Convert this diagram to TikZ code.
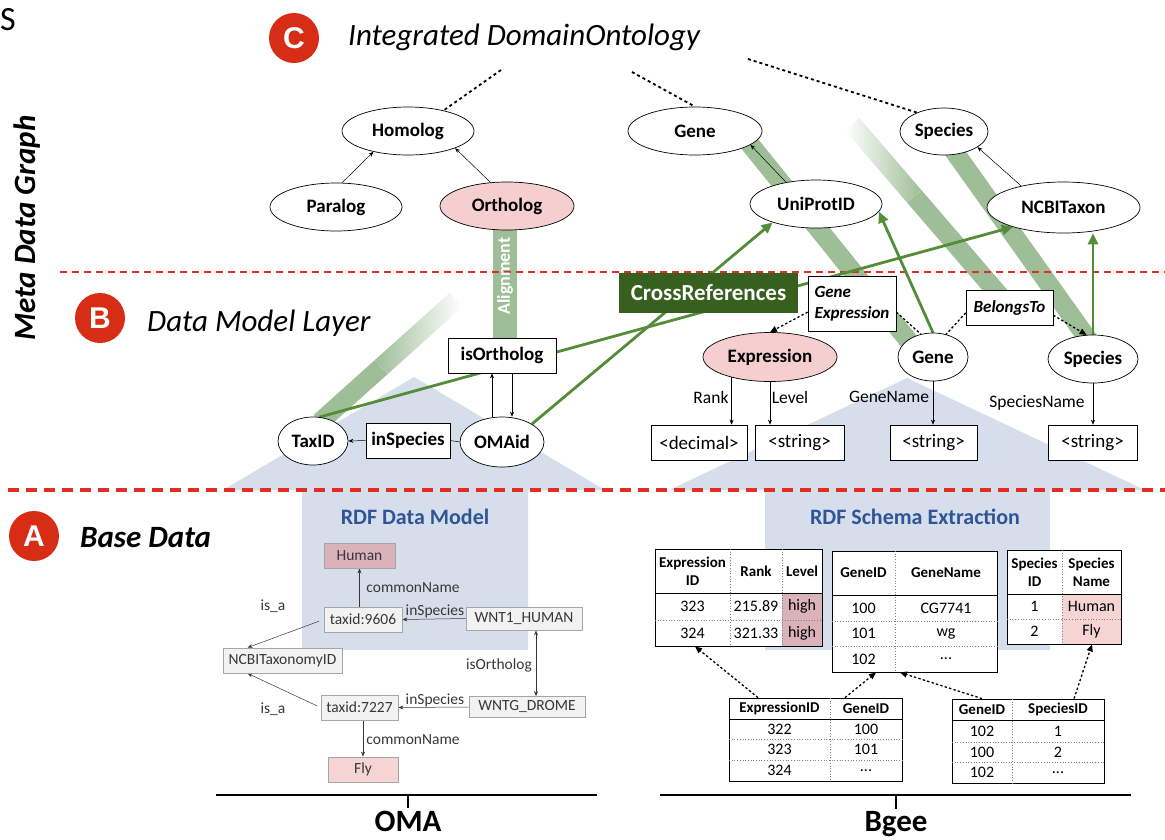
\documentclass[tikz,border=0pt]{standalone}
\usepackage{fontspec}
\setmainfont{Carlito}
\newfontfamily\arialfont{Liberation Sans}
\usetikzlibrary{shapes.geometric,arrows.meta,calc}
\newcommand{\fsz}[1]{\fontsize{#1}{#1}\selectfont\baselineskip=1.2\baselineskip}
\pgfdeclarelayer{bg}
\pgfdeclarelayer{mid}
\pgfsetlayers{bg,mid,main}
\definecolor{redline}{RGB}{225,45,35}
\definecolor{badge}{RGB}{215,45,20}
\definecolor{arrowgreen}{RGB}{85,140,55}
\definecolor{crossgreen}{RGB}{55,95,30}
\definecolor{bandgreen}{RGB}{158,190,152}
\definecolor{pinkE}{RGB}{245,207,207}
\definecolor{pinkD}{RGB}{218,178,186}
\definecolor{pinkL}{RGB}{247,212,212}
\definecolor{houseblue}{RGB}{214,222,236}
\definecolor{rdfblue}{RGB}{47,85,151}
\definecolor{boxgray}{RGB}{242,242,242}
\definecolor{boxline}{RGB}{165,165,165}
\definecolor{labelgray}{RGB}{55,55,55}
\tikzset{
  ellnode/.style={ellipse, draw, line width=0.7pt, fill=white, inner sep=0pt, font=\bfseries\fsz{19}},
  relbox/.style={rectangle, draw, line width=0.7pt, fill=white, inner sep=0pt, font=\bfseries\fsz{19}},
  litbox/.style={rectangle, draw, line width=0.7pt, fill=white, inner sep=0pt, font=\fsz{19}},
  italbox/.style={rectangle, draw, line width=0.7pt, fill=white, inner sep=0pt, font=\bfseries\itshape\fsz{17}, align=left},
  crossbox/.style={rectangle, fill=crossgreen, text=white, font=\bfseries\fsz{23}, inner sep=0pt},
  thinarrow/.style={-{Stealth[length=5pt,width=4pt]}, line width=0.5pt},
  thinline/.style={line width=0.5pt},
  greenarrow/.style={-{Triangle[length=11pt,width=10pt]}, line width=2.8pt, draw=arrowgreen, color=arrowgreen},
  dotarrow/.style={-{Triangle[length=7pt,width=6pt]}, line width=1.3pt, dash pattern=on 2.4pt off 2.2pt},
  dotline/.style={line width=1.3pt, dash pattern=on 2.4pt off 2.2pt},
  topdots/.style={line width=1.8pt, dash pattern=on 3pt off 3pt},
  reddash/.style={draw=redline, line width=2pt, dash pattern=on 7pt off 5pt},
  reddashbig/.style={draw=redline, line width=3.6pt, dash pattern=on 11pt off 7pt},
  badgecirc/.style={circle, fill=badge, text=white, font=\arialfont\bfseries\fsz{30}, minimum size=50pt, inner sep=0pt},
  titletext/.style={font=\itshape\fsz{31}, inner sep=0pt, anchor=base west},
  basebox/.style={rectangle, draw=boxline, fill=boxgray, line width=0.8pt, inner sep=0pt, font=\fsz{15.5}, text=labelgray},
  baselabel/.style={font=\fsz{15.5}, text=labelgray, inner sep=0pt},
  attrlabel/.style={font=\fsz{17.5}, inner sep=0pt},
  cellh/.style={font=\bfseries\fsz{15}, align=center, inner sep=0pt},
  cellv/.style={font=\fsz{16}, inner sep=0pt},
  tabframe/.style={rectangle, draw, line width=0.8pt, fill=white, inner sep=0pt},
  tabdot/.style={line width=0.7pt, dotted, draw=gray},
  bandnode/.style={inner sep=0pt, minimum height=19pt, draw=none},
}
% name, from, to, color at from, color at to
\newcommand{\bandseg}[5]{%
  \path let \p1=($(#3)-(#2)$), \n1={atan2(\y1,\x1)}, \n2={veclen(\x1,\y1)} in
    node[bandnode, rotate=\n1, minimum width=\n2, left color=#4, right color=#5] (#1) at ($(#2)!0.5!(#3)$) {};%
}
\begin{document}
\begin{tikzpicture}[x=1pt,y=-1pt]
\useasboundingbox (0,0) rectangle (1165,839);

%================ titles and badges
\node[font=\fsz{34}, inner sep=0pt] (sTop) at (8,20) {S};
\node[badgecirc] (badgeC) at (294,38) {C};
\node[titletext] (titleC) at (348,45) {Integrated DomainOntology};
\node[badgecirc] (badgeB) at (100,318) {B};
\node[titletext] (titleB) at (147,331) {Data Model Layer};
\node[badgecirc] (badgeA) at (34,536) {A};
\node[titletext, font=\bfseries\itshape\fsz{31}] (titleA) at (80,547) {Base Data};
\node[font=\bfseries\itshape\fsz{31}, rotate=90, inner sep=0pt] (metaLabel) at (27,228) {Meta Data Graph};

%================ C layer nodes
\node[ellnode, minimum width=132pt, minimum height=48pt] (homolog) at (408,131) {Homolog};
\node[ellnode, minimum width=132pt, minimum height=48pt] (paralog) at (336,207) {Paralog};
\node[ellnode, fill=pinkE, minimum width=134pt, minimum height=48pt] (ortholog) at (507,206) {Ortholog};
\node[ellnode, minimum width=134pt, minimum height=48pt] (geneT) at (695,131) {Gene};
\node[ellnode, minimum width=88pt, minimum height=47pt] (speciesT) at (944,131.5) {Species};
\node[ellnode, minimum width=132pt, minimum height=48pt] (uniprot) at (816,204) {UniProtID};
\node[ellnode, minimum width=153pt, minimum height=51pt] (ncbi) at (1063.5,207.5) {NCBITaxon};

\coordinate (d1) at (501,70);
\coordinate (d2) at (632,72);
\coordinate (d3) at (748,59);
\draw[topdots] (d1) -- (homolog.30);
\draw[topdots] (d2) -- (geneT.north);
\draw[topdots] (d3) -- (speciesT.145);

\draw[thinarrow] (paralog.76) -- (homolog.211);
\draw[thinarrow] (ortholog.125) -- (homolog.340);
\draw[thinarrow] (uniprot.144) -- (geneT.346);
\draw[thinarrow] (ncbi.153) -- (speciesT.335);

%================ B layer nodes
\node[ellnode, minimum width=70pt, minimum height=48pt] (taxid) at (313,441) {TaxID};
\node[relbox, minimum width=84pt, minimum height=35pt] (inspecies) at (408,440.5) {inSpecies};
\node[ellnode, minimum width=84pt, minimum height=50pt] (omaid) at (502,442) {OMAid};
\node[relbox, minimum width=108pt, minimum height=35pt] (isortho) at (502,355.5) {isOrtholog};
\node[crossbox, minimum width=179pt, minimum height=40pt] (crossref) at (708.5,293) {CrossReferences};
\node[italbox, minimum width=88pt, minimum height=55pt] (geneexp) at (852,303.5) {Gene\\[1pt]Expression};
\node[italbox, minimum width=87pt, minimum height=35pt] (belongs) at (1009.5,307.5) {BelongsTo};
\node[ellnode, fill=pinkE, minimum width=134pt, minimum height=49pt] (expression) at (770,357) {Expression};
\node[ellnode, minimum width=70pt, minimum height=48pt] (geneM) at (933,357) {Gene};
\node[ellnode, minimum width=90pt, minimum height=48pt] (speciesM) at (1093,359) {Species};
\node[litbox, minimum width=96pt, minimum height=35pt] (decimal) at (699,442.5) {<decimal>};
\node[litbox, minimum width=89pt, minimum height=35pt] (strA) at (799.5,442.5) {<string>};
\node[litbox, minimum width=87pt, minimum height=35pt] (strB) at (933.5,442.5) {<string>};
\node[litbox, minimum width=89pt, minimum height=35pt] (strC) at (1092.5,442.5) {<string>};
\node[attrlabel] (lblRank) at (711,397) {Rank};
\node[attrlabel] (lblLevel) at (790,397) {Level};
\node[attrlabel] (lblGeneName) at (889,397) {GeneName};
\node[attrlabel] (lblSpeciesName) at (1037,403) {SpeciesName};
\node[font=\bfseries\fsz{18}, text=white, rotate=90, inner sep=0pt] (alignText) at (505,276) {Alignment};

\draw[dotarrow] (geneexp.191) -- (expression.north);
\draw[dotline] (geneexp.349) -- (geneM.118);
\draw[dotline] (belongs.187) -- (geneM.60);
\draw[dotarrow] (belongs.350) -- (speciesM.105);

%================ A layer (OMA)
\node[font=\bfseries\fsz{22}, text=rdfblue, inner sep=0pt] (rdfDM) at (415,517) {RDF Data Model};
\node[basebox, fill=pinkD, minimum width=71pt, minimum height=25pt] (human) at (359.5,555.5) {Human};
\node[basebox, minimum width=78pt, minimum height=25pt] (tax9606) at (363,619.5) {taxid:9606};
\node[basebox, minimum width=116pt, minimum height=23pt] (wnt1) at (524,618.5) {WNT1\_HUMAN};
\node[basebox, minimum width=119pt, minimum height=25pt] (ncbitax) at (282.5,660.5) {NCBITaxonomyID};
\node[basebox, minimum width=77pt, minimum height=25pt] (tax7227) at (359.5,707.5) {taxid:7227};
\node[basebox, minimum width=116pt, minimum height=21pt] (wntg) at (527,707) {WNTG\_DROME};
\node[basebox, fill=pinkL, minimum width=70pt, minimum height=25pt] (fly) at (363,769.5) {Fly};
\node[baselabel] (lblCommon1) at (413,588) {commonName};
\node[baselabel] (lblIsa1) at (273,606) {is\_a};
\node[baselabel] (lblInSp1) at (435,611) {inSpecies};
\node[baselabel] (lblIsOrth) at (499,665) {isOrtholog};
\node[baselabel] (lblIsa2) at (273,709) {is\_a};
\node[baselabel] (lblInSp2) at (435,700) {inSpecies};
\node[baselabel] (lblCommon2) at (413,740) {commonName};

\coordinate (omaL) at (216,795);
\coordinate (omaR) at (597,795);
\coordinate (omaT) at (408,795);
\coordinate (omaTb) at (408,808);
\draw[line width=1.3pt] (omaL) -- (omaR);
\draw[line width=1.3pt] (omaT) -- (omaTb);
\node[font=\bfseries\fsz{31}, anchor=base, inner sep=0pt] (omaName) at (408,831) {OMA};

%================ A layer (Bgee)
\node[font=\bfseries\fsz{22}, text=rdfblue, inner sep=0pt] (rdfSE) at (915,517) {RDF Schema Extraction};

% Expression table
\node[tabframe, minimum width=167pt, minimum height=97pt] (exptab) at (738.5,597.5) {};
\fill[pinkD] (782.4,593.4) rectangle (821.6,645.6);
\draw[tabdot] (730,549) -- (730,646);
\draw[tabdot] (782,549) -- (782,646);
\draw[tabdot] (655,620) -- (822,620);
\draw[line width=0.8pt] (655,593) -- (822,593);
\node[cellh] (expH1) at (692.5,571) {Expression\\ID};
\node[cellh] (expH2) at (756,571) {Rank};
\node[cellh] (expH3) at (802,571) {Level};
\node[cellv] (expA1) at (692.5,606.5) {323};
\node[cellv] (expA2) at (756,606.5) {215.89};
\node[cellv] (expA3) at (802,606.5) {high};
\node[cellv] (expB1) at (692.5,633) {324};
\node[cellv] (expB2) at (756,633) {321.33};
\node[cellv] (expB3) at (802,633) {high};

% Gene table
\node[tabframe, minimum width=165pt, minimum height=121pt] (genetab) at (914.5,611.5) {};
\draw[tabdot] (895,551) -- (895,672);
\draw[tabdot] (832,621) -- (997,621);
\draw[tabdot] (832,646) -- (997,646);
\draw[line width=0.8pt] (832,595) -- (997,595);
\node[cellh] (geneH1) at (863.5,573) {GeneID};
\node[cellh] (geneH2) at (946,573) {GeneName};
\node[cellv] (geneA1) at (863.5,608) {100};
\node[cellv] (geneA2) at (946,608) {CG7741};
\node[cellv] (geneB1) at (863.5,633.5) {101};
\node[cellv] (geneB2) at (946,633.5) {wg};
\node[cellv] (geneC1) at (863.5,659) {102};
\node[cellv] (geneC2) at (946,659) {...};

% Species table
\node[tabframe, minimum width=114pt, minimum height=94pt] (sptab) at (1064,597) {};
\fill[pinkL] (1062.4,594.4) rectangle (1120.6,643.6);
\draw[tabdot] (1062,550) -- (1062,644);
\draw[tabdot] (1007,619) -- (1121,619);
\draw[line width=0.8pt] (1007,594) -- (1121,594);
\node[cellh] (spH1) at (1034.5,572) {Species\\ID};
\node[cellh] (spH2) at (1091.5,572) {Species\\Name};
\node[cellv] (spA1) at (1034.5,606.5) {1};
\node[cellv] (spA2) at (1091.5,606.5) {Human};
\node[cellv] (spB1) at (1034.5,631.5) {2};
\node[cellv] (spB2) at (1091.5,631.5) {Fly};

% ExpressionID-GeneID table
\node[tabframe, minimum width=173pt, minimum height=83pt] (egtab) at (815.5,739.5) {};
\draw[tabdot] (830,698) -- (830,781);
\draw[tabdot] (729,739) -- (902,739);
\draw[tabdot] (729,760) -- (902,760);
\draw[line width=0.8pt] (729,719) -- (902,719);
\node[cellh] (egH1) at (779.5,708.5) {ExpressionID};
\node[cellh] (egH2) at (866,708.5) {GeneID};
\node[cellv] (egA1) at (779.5,729) {322};
\node[cellv] (egA2) at (866,729) {100};
\node[cellv] (egB1) at (779.5,749.5) {323};
\node[cellv] (egB2) at (866,749.5) {101};
\node[cellv] (egC1) at (779.5,770.5) {324};
\node[cellv] (egC2) at (866,770.5) {...};

% GeneID-SpeciesID table
\node[tabframe, minimum width=152pt, minimum height=84pt] (gstab) at (1028,741) {};
\draw[tabdot] (1012,699) -- (1012,783);
\draw[tabdot] (952,742) -- (1104,742);
\draw[tabdot] (952,762) -- (1104,762);
\draw[line width=0.8pt] (952,720) -- (1104,720);
\node[cellh] (gsH1) at (982,709.5) {GeneID};
\node[cellh] (gsH2) at (1058,709.5) {SpeciesID};
\node[cellv] (gsA1) at (982,731) {102};
\node[cellv] (gsA2) at (1058,731) {1};
\node[cellv] (gsB1) at (982,752) {100};
\node[cellv] (gsB2) at (1058,752) {2};
\node[cellv] (gsC1) at (982,772.5) {102};
\node[cellv] (gsC2) at (1058,772.5) {...};

\draw[dotarrow] ([xshift=-57.5pt]egtab.north) -- ([xshift=-43.5pt]exptab.south);
\draw[dotarrow] ([xshift=29.5pt]egtab.north) -- ([xshift=-38.5pt]genetab.south);
\draw[dotarrow] ([xshift=-46pt]gstab.north) -- ([xshift=-14.5pt]genetab.south);
\draw[dotarrow] ([xshift=46pt]gstab.north) -- ([xshift=28pt]sptab.south);

\coordinate (bgL) at (660,795);
\coordinate (bgR) at (1131,795);
\coordinate (bgT) at (896,795);
\coordinate (bgTb) at (896,809);
\draw[line width=1.3pt] (bgL) -- (bgR);
\draw[line width=1.3pt] (bgT) -- (bgTb);
\node[font=\bfseries\fsz{31}, anchor=base, inner sep=0pt] (bgeeName) at (896,831) {Bgee};

%================ background: houses, bands, red lines
\begin{pgfonlayer}{bg}
  \fill[houseblue] (223,490) -- (414,377) -- (605,490) -- (528,490) -- (528,650) -- (302,650) -- (302,490) -- cycle;
  \fill[houseblue] (669,490) -- (907,378) -- (1145,490) -- (1050,490) -- (1050,650) -- (765,650) -- (765,490) -- cycle;
  % alignment band
  \fill[bandgreen] (493,225) rectangle (517,340);
  % TaxID band (fades towards upper right)
  \coordinate (tbA) at (320,422);
  \coordinate (tbB) at (456,300);
  \coordinate (tbM) at ($(tbA)!0.45!(tbB)$);
  \bandseg{taxBandA}{tbA}{tbM}{bandgreen}{bandgreen}
  \bandseg{taxBandB}{tbM}{tbB}{bandgreen}{white}
  % Gene band
  \coordinate (b1A) at (745,138);
  \coordinate (b1B) at (912,345);
  \bandseg{geneBand}{b1A}{b1B}{bandgreen}{bandgreen}
  % faded band to BelongsTo
  \coordinate (b2A) at (852,124);
  \coordinate (b2B) at (1000,296);
  \coordinate (b2M) at ($(b2A)!0.42!(b2B)$);
  \bandseg{belBandA}{b2A}{b2M}{white}{bandgreen}
  \bandseg{belBandB}{b2M}{b2B}{bandgreen}{bandgreen}
  % Species band
  \coordinate (b3A) at (946,140);
  \coordinate (b3B) at (1090,342);
  \bandseg{spBand}{b3A}{b3B}{bandgreen}{bandgreen}
  % red dashed separators
  \coordinate (r1L) at (60,272);
  \coordinate (r1R) at (1165,272);
  \coordinate (r2L) at (8,490);
  \coordinate (r2R) at (1165,490);
  \draw[reddash] (r1L) -- (r1R);
  \draw[reddashbig] (r2L) -- (r2R);
\end{pgfonlayer}

%================ connectors under nodes
\begin{pgfonlayer}{mid}
  \draw[greenarrow] (taxid.75) -- (ncbi.201);
  \draw[greenarrow] (omaid.31) -- (uniprot.203);
  \draw[greenarrow] (geneM.north) -- (uniprot.353);
  \draw[greenarrow] (speciesM.north) -- (speciesM.north |- ncbi.south);
  % B layer thin
  \draw[thinarrow] (inspecies.west) -- (taxid.east);
  \draw[thinline] (omaid.west) -- (inspecies.east);
  \draw[thinarrow] ([xshift=-10pt]omaid.north) -- ([xshift=-10pt]isortho.south);
  \draw[thinarrow] ([xshift=10pt]isortho.south) -- ([xshift=10pt]omaid.north);
  \draw[thinarrow] (expression.208) -- (expression.208 |- decimal.north);
  \draw[thinarrow] (expression.south) -- (expression.south |- strA.north);
  \draw[thinarrow] (geneM.south) -- (geneM.south |- strB.north);
  \draw[thinarrow] (speciesM.south) -- (speciesM.south |- strC.north);
  % A layer OMA
  \draw[thinarrow, draw=labelgray] (human.south |- tax9606.north) -- (human.south);
  \draw[thinarrow, draw=labelgray] (wnt1.west) -- (tax9606.east);
  \draw[thinarrow, draw=labelgray, shorten <=5pt] (tax9606.west) -- ([xshift=25pt]ncbitax.north west);
  \draw[thinarrow, draw=labelgray, shorten <=4pt] (tax7227.west) -- ([xshift=25pt]ncbitax.south west);
  \draw[thinarrow, draw=labelgray] (wntg.west) -- (tax7227.east);
  \draw[{Stealth[length=5pt,width=4pt]}-{Stealth[length=5pt,width=4pt]}, line width=0.6pt, draw=labelgray] ([xshift=12pt]wnt1.south) -- ([xshift=12pt]wnt1.south |- wntg.north);
  \draw[thinarrow, draw=labelgray] (fly.north |- tax7227.south) -- (fly.north);
\end{pgfonlayer}
\end{tikzpicture}
\end{document}
